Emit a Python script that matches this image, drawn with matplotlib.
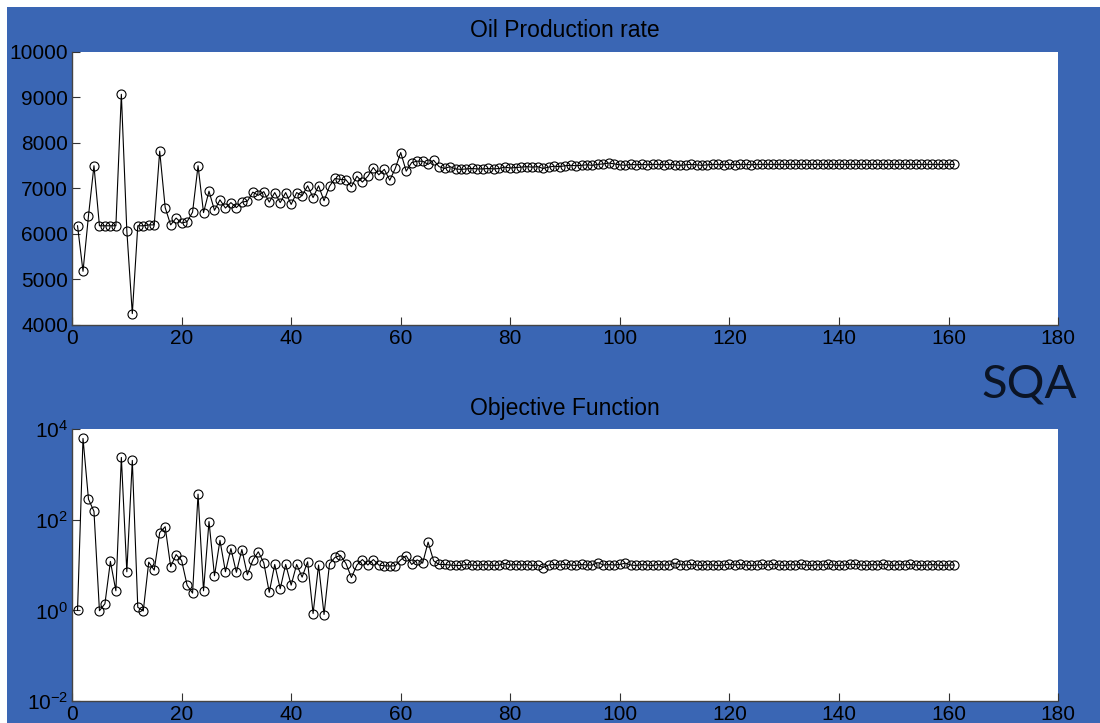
import matplotlib
matplotlib.use('Agg')
import matplotlib.pyplot as plt
from matplotlib.patches import Rectangle

plt.rcParams['font.family'] = ['Liberation Sans', 'DejaVu Sans']
plt.rcParams['mathtext.default'] = 'regular'

# iteration number 1..161
iters = list(range(1, 162))

# oil production rate per iteration
oil_rate = [6180, 5180, 6400, 7500, 6180, 6180, 6180, 6180, 9070, 6070,
            4250, 6180, 6180, 6200, 6200, 7820, 6580, 6200, 6350, 6240,
            6270, 6480, 7500, 6470, 6940, 6520, 6750, 6570, 6690, 6580,
            6700, 6720, 6920, 6850, 6930, 6700, 6910, 6690, 6910, 6650,
            6910, 6840, 7060, 6800, 7060, 6730, 7050, 7220, 7200, 7190,
            7040, 7270, 7140, 7270, 7460, 7300, 7420, 7180, 7440, 7790,
            7380, 7570, 7600, 7600, 7530, 7620, 7480, 7440, 7480, 7430,
            7420, 7430, 7440, 7430, 7430, 7440, 7430, 7440, 7470, 7450,
            7460, 7470, 7480, 7470, 7480, 7440, 7470, 7490, 7480, 7500,
            7510, 7500, 7510, 7520, 7510, 7530, 7540, 7560, 7540, 7520,
            7510, 7530, 7520, 7530, 7520, 7530, 7530, 7520, 7530, 7520,
            7510, 7520, 7530, 7520, 7510, 7520, 7530, 7530, 7520, 7530,
            7520, 7530, 7530, 7520, 7530, 7530, 7530, 7530, 7530, 7530,
            7530, 7530, 7530, 7530, 7530, 7530, 7530, 7530, 7530, 7530,
            7530, 7530, 7530, 7530, 7530, 7530, 7530, 7530, 7530, 7530,
            7530, 7530, 7530, 7530, 7530, 7530, 7530, 7530, 7530, 7530,
            7530]

# objective function per iteration (log scale)
objective = [1.0, 6200, 283, 153, 0.98, 1.4, 12, 2.7, 2360, 7.1,
             2030, 1.17, 0.97, 11.6, 7.7, 52, 70, 9.2, 17, 12.6,
             3.6, 2.4, 366, 2.7, 91, 5.8, 35, 7.1, 23, 6.9,
             22, 6.1, 12.8, 19.6, 11.2, 2.5, 10.3, 3.0, 10.3, 3.6,
             10.3, 5.4, 11.8, 0.85, 10, 0.81, 10.7, 14.7, 16.3, 10.8,
             5.3, 10, 13.2, 10, 13.2, 10, 9.6, 9.5, 9.6, 13,
             16, 10.3, 13, 11, 32, 12.4, 10.3, 10.3, 10.0, 9.8,
             9.8, 10.3, 10.0, 9.8, 10.2, 10.0, 9.8, 10.0, 10.8, 10.0,
             10.2, 10.0, 10.2, 9.8, 10.0, 8.8, 10.0, 10.3, 10.0, 10.4,
             10.0, 9.8, 10.3, 10.0, 10.0, 11.3, 10.0, 10.2, 10.0, 10.3,
             11.0, 10.0, 9.8, 10.2, 10.0, 9.8, 10.2, 10.0, 10.0, 11.0,
             10.2, 10.0, 10.3, 10.0, 9.8, 10.2, 10.0, 9.8, 10.0, 10.4,
             10.0, 10.3, 10.0, 9.8, 10.0, 10.3, 10.0, 10.4, 10.0, 9.8,
             10.2, 10.0, 10.4, 10.0, 9.8, 10.2, 10.0, 10.3, 10.0, 9.8,
             10.0, 10.4, 10.3, 10.0, 9.8, 10.2, 10.0, 10.4, 10.0, 9.8,
             10.2, 10.0, 10.3, 10.0, 9.8, 10.0, 10.2, 10.0, 9.8, 10.0,
             10.0]

x_ticks = [0, 20, 40, 60, 80, 100, 120, 140, 160, 180]
oil_ticks = [4000, 5000, 6000, 7000, 8000, 9000, 10000]
obj_exps = [-2, 0, 2, 4]

bg = '#3a66b4'

fig = plt.figure(figsize=(11, 7.23), dpi=100, facecolor='white')
fig.patches.append(Rectangle((7 / 1100, 0), 1, 1 - 7 / 723, transform=fig.transFigure,
                             facecolor=bg, edgecolor='none', zorder=-10))

ax1 = fig.add_axes([0.0655, 0.5505, 0.8964, 0.3776])
ax2 = fig.add_axes([0.0655, 0.0304, 0.8964, 0.3762])

ax1.plot(iters, oil_rate, color='black', lw=0.8, marker='o', ms=6.5,
         mfc='none', mec='black', mew=0.8)
ax1.set_xlim(0, 180)
ax1.set_ylim(4000, 10000)
ax1.set_yticks(oil_ticks)
ax1.set_title('Oil Production rate', fontsize=16.5, pad=11)

ax2.semilogy(iters, objective, color='black', lw=0.8, marker='o', ms=6.5,
             mfc='none', mec='black', mew=0.8)
ax2.set_xlim(0, 180)
ax2.set_ylim(1e-2, 1e4)
ax2.set_yticks([10.0 ** e for e in obj_exps])
ax2.set_yticklabels(['$10^{%d}$' % e for e in obj_exps])
ax2.minorticks_off()
ax2.set_title('Objective Function', fontsize=16.5, pad=10)

for ax in (ax1, ax2):
    ax.set_facecolor('white')
    ax.set_xticks(x_ticks)
    ax.tick_params(direction='in', length=6, width=0.8, labelsize=15,
                   colors='#333333', labelcolor='black', pad=3)
    for s in ('top', 'right'):
        ax.spines[s].set_visible(False)
    for s in ('left', 'bottom'):
        ax.spines[s].set_color('#444444')
        ax.spines[s].set_linewidth(1.0)

fig.text(0.979, 0.4675, 'SQA', fontsize=34, family=['Lato', 'DejaVu Sans'],
         color='#0b1425', ha='right', va='center')

fig.savefig('out.png', dpi=100, facecolor=fig.get_facecolor())
